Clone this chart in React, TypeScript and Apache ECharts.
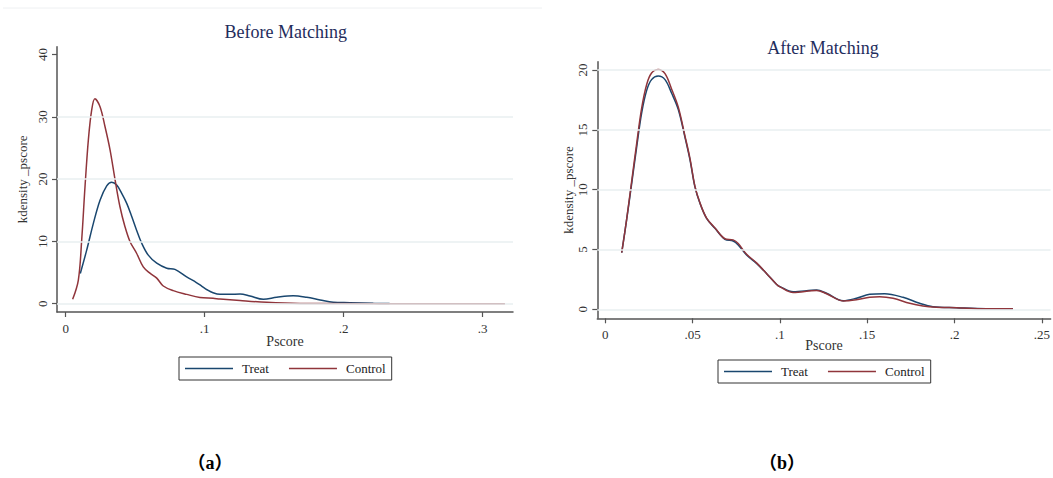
import React, { useEffect, useRef } from "react";
import * as echarts from "echarts";

// ---------- data ----------
const treatBefore: [number, number][] = [
  [0.0105, 4.85], [0.0151, 8.6], [0.0199, 12.9], [0.0247, 16.6], [0.0295, 18.9],
  [0.0331, 19.5], [0.0367, 19.05], [0.0403, 17.7], [0.0439, 16.1], [0.0475, 14.0],
  [0.051, 11.8], [0.0547, 9.7], [0.0594, 7.8], [0.0655, 6.5], [0.0727, 5.7],
  [0.0786, 5.5], [0.087, 4.3], [0.094, 3.4], [0.098, 2.8], [0.102, 2.2],
  [0.106, 1.75], [0.111, 1.5], [0.118, 1.5], [0.1254, 1.56], [0.1326, 1.24],
  [0.1422, 0.7], [0.1518, 1.03], [0.1637, 1.28], [0.1734, 1.03], [0.183, 0.6],
  [0.1925, 0.22], [0.2045, 0.16], [0.2213, 0.06], [0.233, 0.03],
];
const controlBefore: [number, number][] = [
  [0.005, 0.7], [0.0091, 3.8], [0.0115, 10.2], [0.0139, 18.8], [0.0163, 26.3],
  [0.0187, 31.1], [0.021, 32.9], [0.0247, 31.6], [0.0283, 28.4], [0.0319, 24.7],
  [0.0355, 19.9], [0.039, 15.6], [0.0426, 12.4], [0.0463, 9.95], [0.051, 8.1],
  [0.0558, 5.9], [0.0606, 4.9], [0.0655, 4.1], [0.0702, 2.84], [0.0774, 2.1],
  [0.087, 1.5], [0.0966, 1.0], [0.106, 0.86], [0.111, 0.75], [0.1254, 0.5],
  [0.1446, 0.22], [0.1686, 0.05], [0.2, 0.02], [0.25, 0.005], [0.316, 0.0],
];
const treatAfter: [number, number][] = [
  [0.0094, 4.73], [0.0122, 7.47], [0.0151, 10.5], [0.018, 13.6], [0.0208, 16.4],
  [0.0237, 18.3], [0.0265, 19.2], [0.0303, 19.5], [0.0342, 19.2], [0.038, 18.06],
  [0.0418, 16.7], [0.0456, 14.4], [0.0485, 12.5], [0.0513, 10.25], [0.0542, 8.86],
  [0.058, 7.6], [0.0628, 6.77], [0.0685, 5.85], [0.0732, 5.71], [0.0761, 5.38],
  [0.0809, 4.54], [0.0866, 3.84], [0.0923, 3.0], [0.098, 2.1], [0.1, 1.9],
  [0.1076, 1.47], [0.121, 1.61], [0.1267, 1.34], [0.1362, 0.72], [0.1438, 0.92],
  [0.1514, 1.25], [0.16, 1.3], [0.1705, 1.0], [0.18, 0.5], [0.1876, 0.22],
  [0.201, 0.13], [0.2182, 0.05], [0.2334, 0.05],
];
const controlAfter: [number, number][] = [
  [0.0094, 4.73], [0.0122, 7.5], [0.0151, 10.7], [0.018, 13.9], [0.0208, 16.8],
  [0.0237, 18.8], [0.0265, 19.75], [0.0303, 20.05], [0.0342, 19.7], [0.038, 18.4],
  [0.0418, 16.9], [0.0456, 14.5], [0.0485, 12.6], [0.0513, 10.3], [0.0542, 8.9],
  [0.058, 7.62], [0.0628, 6.8], [0.0685, 5.9], [0.0732, 5.8], [0.0761, 5.5],
  [0.0809, 4.6], [0.0866, 3.88], [0.0923, 3.0], [0.098, 2.1], [0.1, 1.88],
  [0.1076, 1.4], [0.121, 1.58], [0.1267, 1.3], [0.1362, 0.7], [0.1438, 0.8],
  [0.1514, 1.0], [0.1571, 1.05], [0.1648, 0.92], [0.1743, 0.5], [0.1819, 0.28],
  [0.1895, 0.18], [0.201, 0.13], [0.2182, 0.05], [0.2334, 0.05],
];

const xTicksA = [0, 0.1, 0.2, 0.3];
const xLabelsA = ["0", ".1", ".2", ".3"];
const yTicksA = [0, 10, 20, 30, 40];
const yLabelsA = ["0", "10", "20", "30", "40"];
const gridLinesA = [0, 10, 20, 30];

const xTicksB = [0, 0.05, 0.1, 0.15, 0.2, 0.25];
const xLabelsB = ["0", ".05", ".1", ".15", ".2", ".25"];
const yTicksB = [0, 5, 10, 15, 20];
const yLabelsB = ["0", "5", "10", "15", "20"];
const gridLinesB = [0, 5, 10, 15, 20];

const seriesNames = ["Treat", "Control"];
const titles = ["Before Matching", "After Matching"];
const panelLabels = ["（a）", "（b）"];
const axisTitleX = "Pscore";
const axisTitleY = "kdensity _pscore";

// ---------- style ----------
const FONT = "'Liberation Serif', 'Times New Roman', serif";
const LABEL_FONT = "'Liberation Serif', 'Noto Sans CJK SC', serif";
const NAVY = "#1a476f";
const MAROON = "#90353b";
const AXIS = "#555555";
const GRID = "#e9eff0";
const TXT = "#333333";

function labelFor(values: number[], labels: string[]) {
  return (v: number) => {
    const i = values.findIndex((t) => Math.abs(t - v) < 1e-9);
    return i >= 0 ? labels[i] : "";
  };
}

function xAxisCfg(gridIndex: number, min: number, max: number, ticks: number[], labels: string[], nameGap: number) {
  return {
    type: "value",
    gridIndex,
    min,
    max,
    name: axisTitleX,
    nameLocation: "middle",
    nameGap,
    nameMoveOverlap: false,
    nameTextStyle: { fontFamily: FONT, fontSize: 14, color: TXT },
    axisLine: { show: true, onZero: false, lineStyle: { color: AXIS, width: 1.5 } },
    axisTick: { show: true, length: 5, customValues: ticks, lineStyle: { color: AXIS, width: 1.2 } },
    axisLabel: {
      customValues: ticks,
      formatter: labelFor(ticks, labels),
      margin: 10,
      fontFamily: FONT,
      fontSize: 13,
      color: TXT,
    },
    splitLine: { show: false },
  };
}

function yAxisCfg(gridIndex: number, min: number, max: number, ticks: number[], labels: string[], nameGap: number) {
  return {
    type: "value",
    gridIndex,
    min,
    max,
    name: axisTitleY,
    nameLocation: "middle",
    nameGap,
    nameMoveOverlap: false,
    nameTextStyle: { fontFamily: FONT, fontSize: 13, color: TXT },
    axisLine: { show: true, onZero: false, lineStyle: { color: AXIS, width: 1.5 } },
    axisTick: { show: true, length: 5, customValues: ticks, lineStyle: { color: AXIS, width: 1.2 } },
    axisLabel: {
      customValues: ticks,
      formatter: labelFor(ticks, labels),
      rotate: 90,
      margin: 8,
      fontFamily: FONT,
      fontSize: 13,
      color: TXT,
    },
    splitLine: { show: false },
  };
}

function gridSeries(idx: number, values: number[]) {
  return {
    type: "line",
    name: "_grid" + idx,
    xAxisIndex: idx,
    yAxisIndex: idx,
    data: [],
    z: 1,
    silent: true,
    markLine: {
      silent: true,
      symbol: ["none", "none"],
      label: { show: false },
      lineStyle: { color: GRID, width: 1.5, type: "solid" },
      data: values.map((v) => ({ yAxis: v })),
    },
  };
}

function curve(idx: number, name: string, data: [number, number][], color: string) {
  return {
    type: "line",
    name,
    xAxisIndex: idx,
    yAxisIndex: idx,
    data,
    smooth: 0.35,
    symbol: "none",
    z: 3,
    lineStyle: { color, width: 1.5 },
    itemStyle: { color },
  };
}

function legendCfg(left: number, top: number) {
  return {
    left,
    top,
    orient: "horizontal",
    data: seriesNames,
    icon: "rect",
    padding: [5, 6, 5, 6],
    itemWidth: 48,
    itemHeight: 1.5,
    itemGap: 20,
    borderColor: "#333",
    borderWidth: 1,
    selectedMode: false,
    textStyle: { fontFamily: FONT, fontSize: 13, color: "#222", padding: [0, 0, 0, 4] },
  };
}

function panelTitle(text: string, x: number, y: number, size: number, weight: string, color: string, family: string) {
  return {
    text,
    left: x,
    top: y,
    textAlign: "center",
    padding: 0,
    textStyle: { fontFamily: family, fontSize: size, fontWeight: weight, color },
  };
}

export default function App() {
  const ref = useRef<HTMLDivElement>(null);
  useEffect(() => {
    if (!ref.current) return;
    const chart = echarts.init(ref.current, null, { renderer: "svg" });
    const option = {
      animation: false,
      backgroundColor: "#ffffff",
      title: [
        panelTitle(titles[0], 285.7, 23, 18, "normal", "#1f2d5c", FONT),
        panelTitle(titles[1], 823, 39, 18, "normal", "#1f2d5c", FONT),
        panelTitle(panelLabels[0], 210, 454, 18, "bold", "#000", LABEL_FONT),
        panelTitle(panelLabels[1], 782, 454, 18, "bold", "#000", LABEL_FONT),
      ],
      grid: [
        { left: 57, top: 46.7, width: 456, height: 265.3, containLabel: false },
        { left: 597.3, top: 61.7, width: 453.7, height: 256.6, containLabel: false },
      ],
      xAxis: [
        xAxisCfg(0, -0.00626, 0.3218, xTicksA, xLabelsA, 22),
        xAxisCfg(1, -0.00458, 0.255, xTicksB, xLabelsB, 20.5),
      ],
      yAxis: [
        yAxisCfg(0, -1.332, 41.25, yTicksA, yLabelsA, 28),
        yAxisCfg(1, -0.753, 20.7, yTicksB, yLabelsB, 22.5),
      ],
      legend: [legendCfg(179, 357), legendCfg(718, 360)],
      series: [
        gridSeries(0, gridLinesA),
        gridSeries(1, gridLinesB),
        curve(0, seriesNames[0], treatBefore, NAVY),
        curve(0, seriesNames[1], controlBefore, MAROON),
        curve(1, seriesNames[0], treatAfter, NAVY),
        curve(1, seriesNames[1], controlAfter, MAROON),
      ],
      graphic: [
        {
          type: "line",
          shape: { x1: 3, y1: 8, x2: 542, y2: 8 },
          style: { stroke: "#eef0f2", lineWidth: 1 },
          silent: true,
        },
      ],
    };
    chart.setOption(option as any);
    return () => chart.dispose();
  }, []);
  return (
    <div
      ref={ref}
      style={{ position: "fixed", left: 0, top: 0, width: 1053, height: 478, background: "#fff" }}
    />
  );
}
